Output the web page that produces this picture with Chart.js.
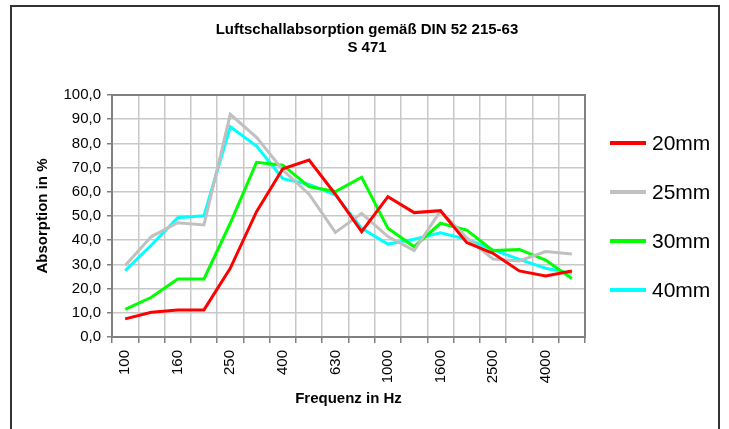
<!DOCTYPE html>
<html>
<head>
<meta charset="utf-8">
<script src="https://cdn.jsdelivr.net/npm/chart.js@4.4.1/dist/chart.umd.min.js"></script>
<style>
  html, body { margin: 0; padding: 0; background: #fff; }
  #wrap { width: 729px; height: 429px; position: relative; }
</style>
</head>
<body>
<div id="wrap"><canvas id="chart" width="729" height="429"></canvas></div>
<script>
// third-octave frequencies (Hz)
const frequencies = ["100", "125", "160", "200", "250", "315", "400", "500", "630",
  "800", "1000", "1250", "1600", "2000", "2500", "3150", "4000", "5000"];

// absorption in % per thickness
const abs20 = [7.5, 10.2, 11.2, 11.2, 28.4, 51.8, 69.5, 73.1, 59, 43.5, 58.0, 51.4, 52.2, 39.0, 34.6, 27.3, 25.2, 27.3];
const abs25 = [29.5, 41.5, 47.2, 46.3, 92.0, 82.5, 69, 59, 43.2, 51.1, 41.5, 35.7, 52.1, 41, 32.2, 31.4, 35.3, 34.3];
const abs30 = [11.4, 16.4, 24.0, 24.0, 47.0, 72.2, 71, 62.1, 60.1, 66.0, 44.9, 37.3, 47.0, 44.2, 35.7, 36.2, 31.8, 24.2];
const abs40 = [27.4, 38.0, 49.3, 50.1, 86.9, 78.9, 65.4, 63, 58.7, 44.9, 38.4, 40.4, 43.1, 40.4, 36.0, 32.1, 28.4, 26.3];

const seriesNames = ["20mm", "25mm", "30mm", "40mm"];
const seriesColors = ["#ff0000", "#c0c0c0", "#00ff00", "#00ffff"];
const yTicks = [0, 10, 20, 30, 40, 50, 60, 70, 80, 90, 100];

const FONT = 'Arial, "Liberation Sans", sans-serif';
const titleLines = ["Luftschallabsorption gemäß DIN 52 215-63", "S 471"];

// frame, plot box, title and legend drawn by hand (Excel look)
const excelDecor = {
  id: "excelDecor",
  afterDraw(chart) {
    const ctx = chart.ctx;
    const a = chart.chartArea;
    ctx.save();
    // plot area box
    ctx.strokeStyle = "#808080";
    ctx.lineWidth = 2;
    ctx.strokeRect(a.left, a.top, a.right - a.left, a.bottom - a.top);
    // outer frame
    ctx.strokeStyle = "#333333";
    ctx.lineWidth = 2;
    ctx.strokeRect(11, 6, 708, 430);
    // title
    ctx.fillStyle = "#000";
    ctx.font = "bold 15px " + FONT;
    ctx.textAlign = "center";
    ctx.textBaseline = "middle";
    ctx.fillText(titleLines[0], 367, 30);
    ctx.fillText(titleLines[1], 367, 48);
    // legend
    ctx.font = "21px " + FONT;
    ctx.textAlign = "left";
    chart.data.datasets.forEach((ds, i) => {
      const y = 143 + i * 49;
      ctx.strokeStyle = ds.borderColor;
      ctx.lineWidth = 4;
      ctx.beginPath();
      ctx.moveTo(610, y);
      ctx.lineTo(646, y);
      ctx.stroke();
      ctx.fillStyle = "#000";
      ctx.fillText(ds.label, 652, y + 1);
    });
    ctx.restore();
  }
};

const allSeries = [abs20, abs25, abs30, abs40];

new Chart(document.getElementById("chart"), {
  type: "line",
  data: {
    labels: frequencies,
    datasets: allSeries.map((vals, i) => ({
      label: seriesNames[i],
      data: vals,
      borderColor: seriesColors[i],
      backgroundColor: seriesColors[i],
      borderWidth: 3,
      pointRadius: 0,
      tension: 0,
      fill: false
    }))
  },
  options: {
    responsive: false,
    animation: false,
    layout: { padding: { top: 95, right: 144, left: 30, bottom: 17 } },
    plugins: {
      legend: { display: false },
      title: { display: false },
      tooltip: { enabled: false }
    },
    scales: {
      x: {
        offset: true,
        afterFit: (s) => { s.height = 75; },
        grid: { offset: true, color: "#c8c8c8", lineWidth: 1.5, tickColor: "#808080", tickLength: 6 },
        border: { color: "#808080", width: 2 },
        ticks: {
          autoSkip: false,
          maxRotation: 90,
          minRotation: 90,
          padding: 7,
          color: "#000",
          font: { family: FONT, size: 15 },
          callback: (v, i) => (i % 2 === 0 ? frequencies[i] : "")
        },
        title: {
          display: true,
          text: "Frequenz in Hz",
          color: "#000",
          font: { family: FONT, size: 15, weight: "bold" }
        }
      },
      y: {
        min: 0,
        max: 100,
        afterFit: (s) => { s.width = 82; },
        afterBuildTicks: (s) => { s.ticks = yTicks.map((v) => ({ value: v })); },
        grid: { color: "#c8c8c8", lineWidth: 1.5, tickColor: "#808080", tickLength: 5 },
        border: { color: "#808080", width: 2 },
        ticks: {
          padding: 6,
          color: "#000",
          font: { family: FONT, size: 15 },
          callback: (v) => v.toFixed(1).replace(".", ",")
        },
        title: {
          display: true,
          text: "Absorption in %",
          color: "#000",
          font: { family: FONT, size: 15, weight: "bold" }
        }
      }
    }
  },
  plugins: [excelDecor]
});
</script>
</body>
</html>
